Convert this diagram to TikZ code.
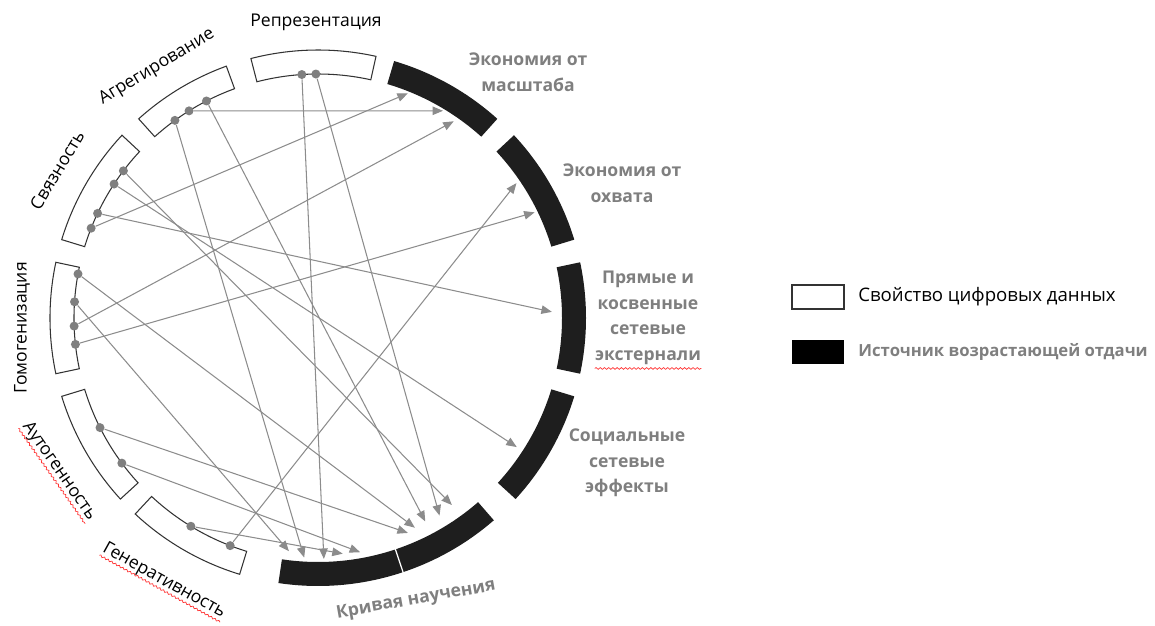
\documentclass[tikz,border=0pt]{standalone}
\usepackage{fontspec}
\setmainfont{Open Sans}
\usetikzlibrary{arrows.meta,decorations.pathmorphing}

\definecolor{linegray}{RGB}{140,140,140}
\definecolor{labgray}{RGB}{127,127,127}
\definecolor{segblack}{RGB}{30,30,30}

\tikzset{
  prop/.style={draw=black!80, fill=white, line width=0.6pt},
  gain/.style={fill=segblack},
  dot/.style={circle, fill=labgray, inner sep=0pt, minimum size=0.18cm},
  link/.style={draw=linegray, line width=0.6pt, -{Triangle[length=2.1mm,width=1.7mm]}},
  plab/.style={font=\fontsize{10}{12}\selectfont, inner sep=0pt},
  glab/.style={font=\bfseries\fontsize{10}{14.5}\selectfont, text=labgray, align=center, inner sep=0pt},
  spell/.style={draw=red!80, line width=0.4pt, decorate, decoration={snake, amplitude=0.5pt, segment length=2.4pt}}
}

\begin{document}
\begin{tikzpicture}[x=0.02cm, y=0.02cm]
\useasboundingbox (-318,-307) rectangle (837,318);

% ring
\foreach \a/\b in {77.5/104.5, 110/132, 137/163, 168/192, 197/222.5, 227/253}
  \draw[prop] (\a:268) arc[start angle=\a, end angle=\b, radius=268] -- (\b:244)
    arc[start angle=\b, end angle=\a, radius=244] -- cycle;
\foreach \a/\b in {48/73.5, 17/43, -12/12, -42.5/-17, -98.5/-49}
  \fill[gain] (\a:268) arc[start angle=\a, end angle=\b, radius=268] -- (\b:244)
    arc[start angle=\b, end angle=\a, radius=244] -- cycle;
\draw[white, line width=0.7pt] (-71.5:242) -- (-71.5:270);

% labels
\node[plab] (rep) at (-2,296) {Репрезентация};
\node[plab, rotate=31] (agg) at (-161,251) {Агрегирование};
\node[plab, rotate=59] (con) at (-261,148) {Связность};
\node[plab, rotate=90] (hom) at (-296,-10) {Гомогенизация};
\node[plab, rotate=-55] (aut) at (-259,-153) {Аутогенность};
\node[plab, rotate=-29] (gen) at (-154,-263) {Генеративность};
\draw[spell] (aut.south west) -- (aut.south east);
\draw[spell] (gen.south west) -- (gen.south east);

\node[glab] (sca) at (210,246) {Экономия от\\масштаба};
\node[glab] (sco) at (304,135) {Экономия от\\охвата};
\node[glab] (net) at (330,0) {Прямые и\\косвенные\\сетевые\\экстернали};
\node[glab] (soc) at (309,-145) {Социальные\\сетевые\\эффекты};
\node[glab, rotate=10] (lrn) at (98,-282) {Кривая научения};
\draw[spell] ([yshift=-2pt]net.south west) -- ([yshift=-2pt]net.south east);

% dots
\node[dot] (r1) at (93.8:244) {};
\node[dot] (r2) at (90.5:244) {};
\node[dot] (a1) at (125.9:244) {};
\node[dot] (a2) at (121.9:244) {};
\node[dot] (a3) at (117.2:244) {};
\node[dot] (s1) at (142.9:244) {};
\node[dot] (s2) at (146.7:244) {};
\node[dot] (s3) at (154.6:244) {};
\node[dot] (s4) at (158.4:244) {};
\node[dot] (h1) at (169.6:244) {};
\node[dot] (h2) at (176.2:244) {};
\node[dot] (h3) at (181.9:244) {};
\node[dot] (h4) at (186.2:244) {};
\node[dot] (u1) at (206.7:244) {};
\node[dot] (u2) at (216.5:244) {};
\node[dot] (g1) at (238.6:244) {};
\node[dot] (g2) at (248.9:244) {};

% arrow ends
\coordinate (m1) at (68.2:242);
\coordinate (m2) at (58.9:242);
\coordinate (m3) at (55.4:239);
\coordinate (o1) at (34.2:240);
\coordinate (o2) at (26.0:241);
\coordinate (p1) at (1.5:234);
\coordinate (c1) at (-33:237);
\coordinate (k1) at (-97.1:235);
\coordinate (k2) at (-93.3:240);
\coordinate (k3) at (-88.6:241);
\coordinate (k4) at (-84:237);
\coordinate (k5) at (-79.8:238);
\coordinate (k6) at (-67.3:233);
\coordinate (k7) at (-65.2:231);
\coordinate (k8) at (-62.2:230);
\coordinate (k9) at (-58.4:232);
\coordinate (k10) at (-54.4:230);

\draw[link] (r1) -- (k3);
\draw[link] (r2) -- (k9);
\draw[link] (a1) -- (k2);
\draw[link] (a2) -- (m2);
\draw[link] (a3) -- (k8);
\draw[link] (s1) -- (k10);
\draw[link] (s2) -- (c1);
\draw[link] (s3) -- (p1);
\draw[link] (s4) -- (m1);
\draw[link] (h1) -- (k7);
\draw[link] (h2) -- (k1);
\draw[link] (h3) -- (m3);
\draw[link] (h4) -- (o2);
\draw[link] (u1) -- (k6);
\draw[link] (u2) -- (k5);
\draw[link] (g1) -- (k4);
\draw[link] (g2) -- (o1);

% legend
\node[draw=black!80, fill=white, line width=0.6pt, minimum width=1.04cm, minimum height=0.48cm, inner sep=0pt] (kw) at (500,21) {};
\node[fill=black, minimum width=1.04cm, minimum height=0.48cm, inner sep=0pt] (kb) at (500,-34) {};
\node[plab, anchor=west, font=\fontsize{10.6}{12}\selectfont] (tw) at (540,21) {Свойство цифровых данных};
\node[glab, anchor=west, font=\bfseries\fontsize{9.5}{12}\selectfont] (tb) at (540,-34) {Источник возрастающей отдачи};
\end{tikzpicture}
\end{document}
